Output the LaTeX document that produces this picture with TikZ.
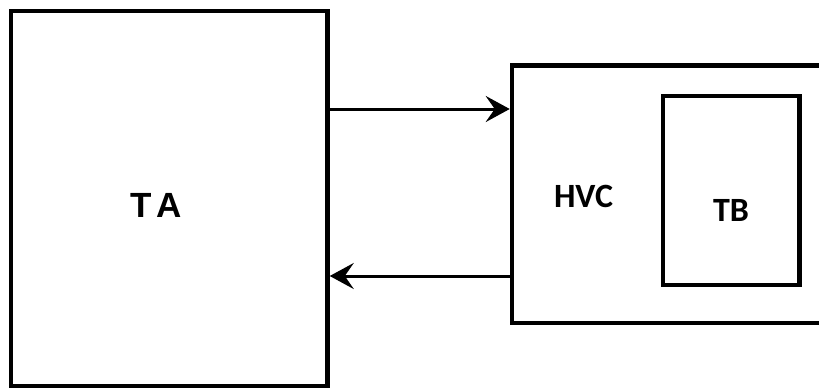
\documentclass[tikz,border=0pt]{standalone}
\usepackage{fontspec}
\newfontfamily\carl{Carlito}
\newfontfamily\lib{Liberation Sans}
\usetikzlibrary{arrows.meta}
\tikzset{
  box/.style={draw=black, line width=4.5pt, fill=none, inner sep=0pt, anchor=center},
  conn/.style={draw=black, line width=3pt, -{Stealth[length=24pt,width=26pt,inset=9pt]}},
  lbl/.style={inner sep=0pt, anchor=center, font=\carl\bfseries\fontsize{34}{40}\selectfont}
}
\begin{document}
\begin{tikzpicture}[x=1pt,y=-1pt]
\useasboundingbox (0,0) rectangle (819,388);
\clip (0,0) rectangle (819,388);
\fill[white] (0,0) rectangle (819,388);
\node[box, minimum width=316.5pt, minimum height=375pt] (TA) at (169.25,198.5) {};
\node[box, minimum width=388pt, minimum height=257.5pt] (HVC) at (706,194.25) {};
\node[box, minimum width=136.5pt, minimum height=189pt] (TB) at (731.25,190.5) {};
\node[inner sep=0pt, font=\lib\bfseries\fontsize{35}{40}\selectfont] (TAt) at (156.2,205.3) {T\kern4.5pt A};
\node[lbl] (HVCt) at (583.5,196) {HVC};
\node[lbl] (TBt) at (731,210) {TB};
\coordinate (ya) at (0,109);
\coordinate (yb) at (0,276);
\draw[conn] (TA.east |- ya) -- (HVC.west |- ya);
\draw[conn] (HVC.west |- yb) -- (TA.east |- yb);
\end{tikzpicture}
\end{document}
